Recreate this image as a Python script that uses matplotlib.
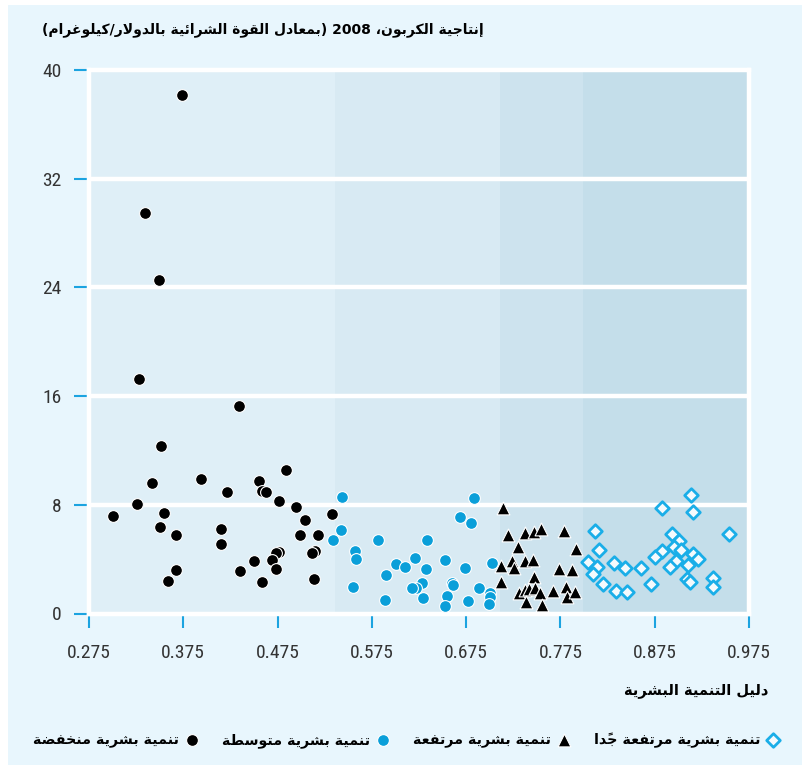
import matplotlib
matplotlib.use('Agg')
import matplotlib.pyplot as plt
from matplotlib.patches import Rectangle
from matplotlib import font_manager as fm

# ---------------- data ----------------
low_hdi = [0.374, 0.334, 0.349, 0.328, 0.434, 0.351, 0.342, 0.394, 0.455, 0.459, 0.463, 0.421,
           0.484, 0.326, 0.476, 0.495, 0.533, 0.300, 0.355, 0.350, 0.367, 0.415, 0.415, 0.504,
           0.499, 0.518, 0.476, 0.473, 0.469, 0.515, 0.511, 0.450, 0.473, 0.367, 0.359, 0.435,
           0.459, 0.514]
low_val = [38.18, 29.50, 24.57, 17.24, 15.27, 12.33, 9.58, 9.88, 9.77, 9.04, 8.96, 8.96,
           10.54, 8.08, 8.30, 7.84, 7.35, 7.18, 7.42, 6.34, 5.80, 6.24, 5.14, 6.86,
           5.80, 5.76, 4.53, 4.45, 3.94, 4.62, 4.43, 3.84, 3.27, 3.22, 2.37, 3.11,
           2.34, 2.54]

med_hdi = [0.543, 0.683, 0.668, 0.680, 0.542, 0.534, 0.581, 0.633, 0.557, 0.558, 0.621, 0.653,
           0.601, 0.610, 0.702, 0.632, 0.674, 0.590, 0.628, 0.622, 0.618, 0.660, 0.661, 0.555,
           0.689, 0.700, 0.700, 0.699, 0.629, 0.655, 0.589, 0.677, 0.653]
med_val = [8.60, 8.52, 7.10, 6.68, 6.12, 5.39, 5.39, 5.43, 4.60, 3.99, 4.06, 3.94,
           3.62, 3.42, 3.69, 3.30, 3.35, 2.81, 2.22, 1.85, 1.85, 2.22, 2.10, 1.93,
           1.88, 1.53, 1.24, 0.70, 1.14, 1.31, 0.99, 0.92, 0.55]

high_hdi = [0.714, 0.719, 0.737, 0.747, 0.754, 0.779, 0.730, 0.791, 0.712, 0.724, 0.726, 0.737,
            0.746, 0.774, 0.787, 0.747, 0.712, 0.731, 0.737, 0.742, 0.748, 0.753, 0.767, 0.781,
            0.782, 0.790, 0.739, 0.755]
high_val = [7.74, 5.78, 5.95, 6.02, 6.22, 6.09, 4.92, 4.75, 3.50, 3.86, 3.33, 3.86,
            3.94, 3.27, 3.20, 2.71, 2.34, 1.49, 1.73, 1.78, 1.90, 1.49, 1.66, 1.93,
            1.24, 1.56, 0.87, 0.63]

vhigh_hdi = [0.913, 0.883, 0.916, 0.812, 0.954, 0.893, 0.901, 0.816, 0.895, 0.903, 0.883, 0.875,
             0.916, 0.921, 0.804, 0.832, 0.898, 0.910, 0.814, 0.843, 0.860, 0.891, 0.810, 0.909,
             0.912, 0.937, 0.820, 0.871, 0.937, 0.834, 0.846]
vhigh_val = [8.70, 7.79, 7.45, 6.07, 5.83, 5.85, 5.36, 4.67, 4.92, 4.67, 4.60, 4.18,
             4.38, 4.01, 3.81, 3.72, 3.86, 3.55, 3.40, 3.33, 3.37, 3.40, 2.88, 2.54,
             2.34, 2.61, 2.17, 2.15, 1.95, 1.66, 1.56]

band_edges = [0.275, 0.536, 0.711, 0.799, 0.975]
x_ticks = [0.275, 0.375, 0.475, 0.575, 0.675, 0.775, 0.875, 0.975]
x_ticklabels = ['0.275', '0.375', '0.475', '0.575', '0.675', '0.775', '0.875', '0.975']
y_ticks = [0, 8, 16, 24, 32, 40]

title = 'إنتاجية الكربون، 2008 (بمعادل القوة الشرائية بالدولار/كيلوغرام)'
xlabel = 'دليل التنمية البشرية'
legend_labels = ['تنمية بشرية منخفضة', 'تنمية بشرية متوسطة', 'تنمية بشرية مرتفعة', 'تنمية بشرية مرتفعة جدًا']

# ---------------- Arabic shaping (no external libs) ----------------
FORMS = {
    '\u0621': ('\uFE80',),
    '\u0622': ('\uFE81', '\uFE82'), '\u0623': ('\uFE83', '\uFE84'),
    '\u0624': ('\uFE85', '\uFE86'), '\u0625': ('\uFE87', '\uFE88'),
    '\u0626': ('\uFE89', '\uFE8A', '\uFE8B', '\uFE8C'),
    '\u0627': ('\uFE8D', '\uFE8E'),
    '\u0628': ('\uFE8F', '\uFE90', '\uFE91', '\uFE92'),
    '\u0629': ('\uFE93', '\uFE94'),
    '\u062A': ('\uFE95', '\uFE96', '\uFE97', '\uFE98'),
    '\u062B': ('\uFE99', '\uFE9A', '\uFE9B', '\uFE9C'),
    '\u062C': ('\uFE9D', '\uFE9E', '\uFE9F', '\uFEA0'),
    '\u062D': ('\uFEA1', '\uFEA2', '\uFEA3', '\uFEA4'),
    '\u062E': ('\uFEA5', '\uFEA6', '\uFEA7', '\uFEA8'),
    '\u062F': ('\uFEA9', '\uFEAA'), '\u0630': ('\uFEAB', '\uFEAC'),
    '\u0631': ('\uFEAD', '\uFEAE'), '\u0632': ('\uFEAF', '\uFEB0'),
    '\u0633': ('\uFEB1', '\uFEB2', '\uFEB3', '\uFEB4'),
    '\u0634': ('\uFEB5', '\uFEB6', '\uFEB7', '\uFEB8'),
    '\u0635': ('\uFEB9', '\uFEBA', '\uFEBB', '\uFEBC'),
    '\u0636': ('\uFEBD', '\uFEBE', '\uFEBF', '\uFEC0'),
    '\u0637': ('\uFEC1', '\uFEC2', '\uFEC3', '\uFEC4'),
    '\u0638': ('\uFEC5', '\uFEC6', '\uFEC7', '\uFEC8'),
    '\u0639': ('\uFEC9', '\uFECA', '\uFECB', '\uFECC'),
    '\u063A': ('\uFECD', '\uFECE', '\uFECF', '\uFED0'),
    '\u0641': ('\uFED1', '\uFED2', '\uFED3', '\uFED4'),
    '\u0642': ('\uFED5', '\uFED6', '\uFED7', '\uFED8'),
    '\u0643': ('\uFED9', '\uFEDA', '\uFEDB', '\uFEDC'),
    '\u0644': ('\uFEDD', '\uFEDE', '\uFEDF', '\uFEE0'),
    '\u0645': ('\uFEE1', '\uFEE2', '\uFEE3', '\uFEE4'),
    '\u0646': ('\uFEE5', '\uFEE6', '\uFEE7', '\uFEE8'),
    '\u0647': ('\uFEE9', '\uFEEA', '\uFEEB', '\uFEEC'),
    '\u0648': ('\uFEED', '\uFEEE'),
    '\u0649': ('\uFEEF', '\uFEF0'),
    '\u064A': ('\uFEF1', '\uFEF2', '\uFEF3', '\uFEF4'),
}
LAM_ALEF = {'\u0622': ('\uFEF5', '\uFEF6'), '\u0623': ('\uFEF7', '\uFEF8'),
            '\u0625': ('\uFEF9', '\uFEFA'), '\u0627': ('\uFEFB', '\uFEFC')}
MIRROR = {'(': ')', ')': '('}


def is_mark(c):
    return '\u064B' <= c <= '\u0652'


def ar(text):
    toks = []
    i = 0
    while i < len(text):
        c = text[i]
        if c == '\u0644' and i + 1 < len(text) and text[i + 1] in LAM_ALEF:
            toks.append([c, LAM_ALEF[text[i + 1]]])
            i += 2
        else:
            toks.append([c, FORMS.get(c)])
            i += 1
    shaped = []
    for idx, (c, f) in enumerate(toks):
        if f is None:
            shaped.append(MIRROR.get(c, c))
            continue
        j = idx - 1
        while j >= 0 and is_mark(toks[j][0]):
            j -= 1
        prev_join = j >= 0 and toks[j][1] is not None and len(toks[j][1]) == 4
        k = idx + 1
        while k < len(toks) and is_mark(toks[k][0]):
            k += 1
        next_join = len(f) == 4 and k < len(toks) and toks[k][1] is not None and len(toks[k][1]) >= 2
        if len(f) == 1:
            shaped.append(f[0])
        elif len(f) == 2:
            shaped.append(f[1] if prev_join else f[0])
        else:
            if prev_join and next_join:
                shaped.append(f[3])
            elif prev_join:
                shaped.append(f[1])
            elif next_join:
                shaped.append(f[2])
            else:
                shaped.append(f[0])
    clusters = []
    for ch in shaped:
        if is_mark(ch) and clusters:
            clusters[-1] += ch
        elif ch.isdigit() and clusters and clusters[-1][-1].isdigit():
            clusters[-1] += ch
        else:
            clusters.append(ch)
    return ''.join(reversed(clusters))


# pick a narrow font for numbers if available
available = {f.name for f in fm.fontManager.ttflist}
num_font = 'DejaVu Sans'
for cand in ['Liberation Sans Narrow', 'Roboto Condensed', 'Open Sans Condensed',
             'Noto Sans Condensed', 'Liberation Sans', 'Roboto']:
    if cand in available:
        num_font = cand
        break

# ---------------- figure ----------------
BG = '#E8F6FD'
BAND_COLORS = ['#DFEFF7', '#D8EAF3', '#CDE3EE', '#C4DEEA']
TICK_C = '#1BA3E0'
BLUE = '#0A9FD9'
DIAM = '#1AAEE8'
TXT = '#333333'

fig = plt.figure(figsize=(8.03, 7.65), dpi=100, facecolor='white')
fig.patches.append(Rectangle((8 / 803, 0), 1, (765 - 5) / 765, transform=fig.transFigure,
                             facecolor=BG, edgecolor='none', zorder=-10))

ax = fig.add_axes([89 / 803, 151.5 / 765, 660 / 803, 543.5 / 765])
ax.set_facecolor('none')
ax.set_xlim(0.275, 0.975)
ax.set_ylim(0, 40)

for i in range(len(band_edges) - 1):
    ax.axvspan(band_edges[i], band_edges[i + 1], color=BAND_COLORS[i], zorder=0, lw=0)

for y in y_ticks[1:-1]:
    ax.axhline(y, color='white', lw=3.2, zorder=1)

for s in ax.spines.values():
    s.set_color('white')
    s.set_linewidth(3.2)

ax.scatter(low_hdi, low_val, s=72, c='black', edgecolors='white', linewidths=0.8, zorder=3,
           label=ar(legend_labels[0]))
ax.scatter(med_hdi, med_val, s=72, c=BLUE, edgecolors='white', linewidths=0.8, zorder=3,
           label=ar(legend_labels[1]))
ax.scatter(high_hdi, high_val, s=85, marker='^', c='black', edgecolors='white', linewidths=0.8,
           zorder=3, label=ar(legend_labels[2]))
ax.scatter(vhigh_hdi, vhigh_val, s=48, marker='D', c='#F4FAFD', edgecolors=DIAM, linewidths=2.0,
           zorder=3, label=ar(legend_labels[3]))

ax.set_xticks(x_ticks)
ax.set_xticklabels(x_ticklabels)
ax.set_yticks(y_ticks)
ax.tick_params(axis='x', direction='out', length=10, width=1.5, color=TICK_C, pad=12,
               labelsize=14, labelcolor=TXT)
ax.tick_params(axis='y', direction='out', length=11, width=1.5, color=TICK_C, pad=9,
               labelsize=14, labelcolor=TXT)
for lab in ax.get_xticklabels() + ax.get_yticklabels():
    lab.set_family(num_font)

fig.text(484 / 803, 1 - 30 / 765, ar(title), ha='right', va='center', fontsize=10,
         fontweight='bold', family='DejaVu Sans', color='black')
fig.text(768 / 803, 1 - 690 / 765, ar(xlabel), ha='right', va='center', fontsize=10.5,
         fontweight='bold', family='DejaVu Sans', color='black')

handles, labels = ax.get_legend_handles_labels()
leg = fig.legend(handles, labels, loc='center right', bbox_to_anchor=(790 / 803, 1 - 740 / 765),
                 ncol=4, frameon=False, markerfirst=False, handletextpad=0.4, columnspacing=1.6,
                 handlelength=1.0, borderpad=0.2,
                 prop={'family': 'DejaVu Sans', 'size': 10.3, 'weight': 'bold'})

fig.savefig('out.png', dpi=100, facecolor=fig.get_facecolor())
